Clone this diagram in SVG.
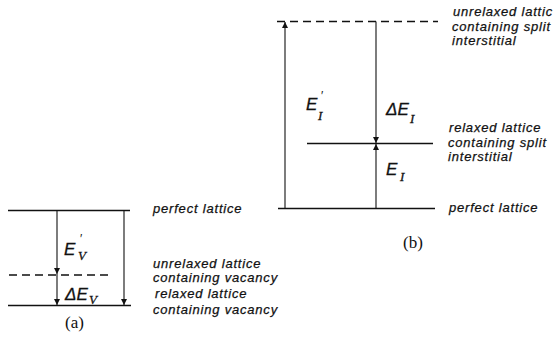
<svg xmlns="http://www.w3.org/2000/svg" width="553" height="339" viewBox="0 0 553 339">
<style>
.ln{stroke:#111;stroke-width:1.7;fill:none}
.thin{stroke:#111;stroke-width:1.1;fill:none}
.dash{stroke:#111;stroke-width:1.7;fill:none;stroke-dasharray:8 5}
.lbl{font-family:"Liberation Sans",Arial,sans-serif;font-style:italic;font-size:13px;fill:#111;stroke:#111;stroke-width:0.25;letter-spacing:0.8px}
.sym{font-family:"Liberation Sans",Arial,sans-serif;font-style:italic;font-size:17px;fill:#111;stroke:#111;stroke-width:0.3}
.pr{font-family:"Liberation Sans",Arial,sans-serif;font-size:12px;fill:#111}
.sub{font-family:"Liberation Serif","Times New Roman",serif;font-style:italic;font-size:13px;fill:#111;stroke:#111;stroke-width:0.3}
.cap{font-family:"Liberation Serif","Times New Roman",serif;font-size:17px;fill:#111}
</style>
<defs>
<marker id="ah" viewBox="0 0 10 10" refX="10" refY="5" markerWidth="11" markerHeight="6" orient="auto" markerUnits="userSpaceOnUse">
<path d="M0,0 L10,5 L0,10 Z" fill="#111"/>
</marker>
</defs>
<g id="levels-a">
<line class="ln" x1="8" y1="210.5" x2="130" y2="210.5"/>
<line class="dash" x1="9" y1="275" x2="108" y2="275"/>
<line class="ln" x1="8" y1="305.5" x2="131" y2="305.5"/>
</g>
<g id="levels-b">
<line class="dash" x1="277" y1="21.5" x2="438" y2="21.5"/>
<line class="ln" x1="307" y1="143.5" x2="433" y2="143.5"/>
<line class="ln" x1="278" y1="208.5" x2="435" y2="208.5"/>
</g>
<g id="connectors">
<line class="thin" x1="57" y1="210.5" x2="57" y2="274" marker-end="url(#ah)"/>
<line class="thin" x1="57" y1="274" x2="57" y2="305" marker-end="url(#ah)"/>
<line class="thin" x1="124" y1="210.5" x2="124" y2="305" marker-end="url(#ah)"/>
<line class="thin" x1="285" y1="208.5" x2="285" y2="22" marker-end="url(#ah)"/>
<line class="thin" x1="376" y1="21.5" x2="376" y2="143" marker-end="url(#ah)"/>
<line class="thin" x1="376" y1="208.5" x2="376" y2="144" marker-end="url(#ah)"/>
</g>
<g id="energy-labels">
<text class="sym" x="64" y="255">E</text><text class="pr" x="80" y="243">′</text><text class="sub" x="78" y="260">V</text>
<text class="sym" x="65" y="300">ΔE</text><text class="sub" x="89" y="304">V</text>
<text class="sym" x="306" y="110">E</text><text class="pr" x="321" y="100">′</text><text class="sub" x="318" y="120">I</text>
<text class="sym" x="386" y="115">ΔE</text><text class="sub" x="410" y="123">I</text>
<text class="sym" x="386" y="175">E</text><text class="sub" x="400" y="181">I</text>
</g>
<g id="state-labels">
<text class="lbl" x="153" y="213">perfect lattice</text>
<text class="lbl" x="153" y="268">unrelaxed lattice</text>
<text class="lbl" x="153" y="282">containing vacancy</text>
<text class="lbl" x="155" y="298">relaxed lattice</text>
<text class="lbl" x="153" y="314">containing vacancy</text>
<text class="lbl" x="453" y="16" textLength="100" lengthAdjust="spacing">unrelaxed lattic</text>
<text class="lbl" x="452" y="31">containing split</text>
<text class="lbl" x="452" y="45">interstitial</text>
<text class="lbl" x="449" y="132">relaxed lattice</text>
<text class="lbl" x="448" y="147">containing split</text>
<text class="lbl" x="448" y="161">interstitial</text>
<text class="lbl" x="449" y="212">perfect lattice</text>
</g>
<g id="captions">
<text class="cap" x="65" y="328">(a)</text>
<text class="cap" x="403" y="248">(b)</text>
</g>
</svg>
